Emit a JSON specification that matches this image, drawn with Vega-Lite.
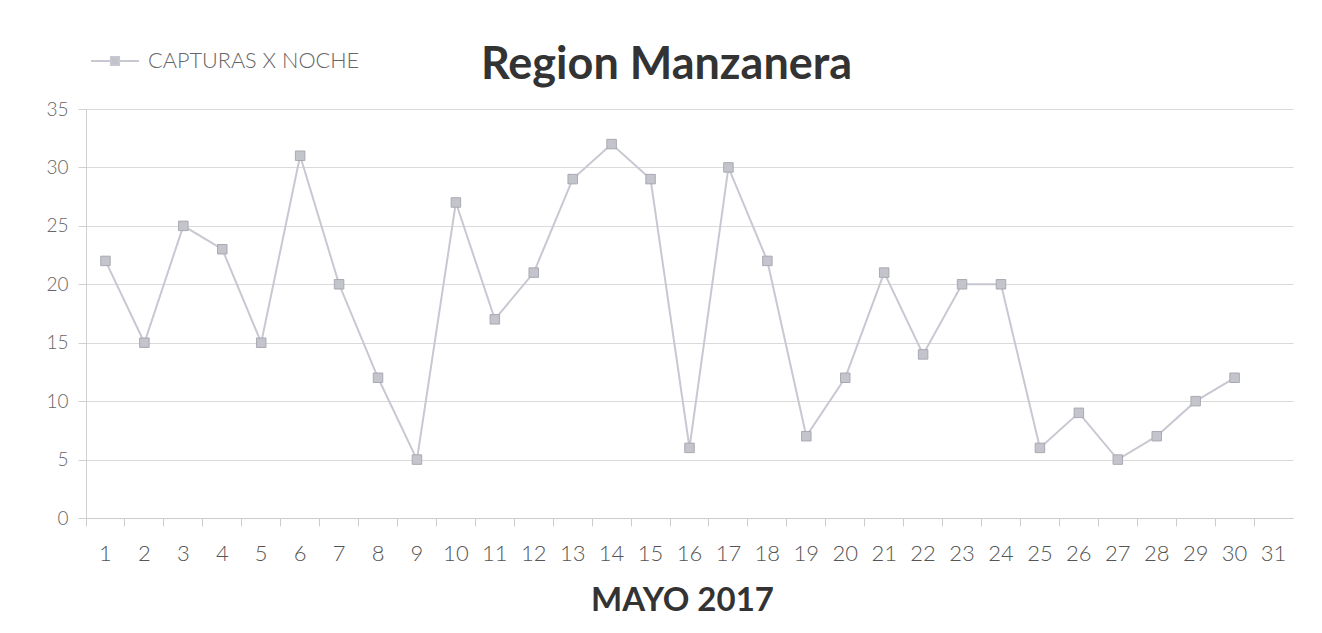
{
  "$schema": "https://vega.github.io/schema/vega-lite/v6.json",
  "autosize": "none",
  "width": 1207,
  "height": 409,
  "padding": {"left": 86, "top": 109, "right": 29, "bottom": 115},
  "background": "white",
  "config": {"view": {"stroke": null}, "font": "Lato"},
  "title": {"text": "Region Manzanera", "fontSize": 45, "fontWeight": "bold", "color": "#333333", "font": "Lato", "anchor": "middle", "dx": -23, "dy": 98, "offset": 10, "baseline": "alphabetic"},
  "data": {"values": [
    {"day": 1, "capturas": 22}, {"day": 2, "capturas": 15}, {"day": 3, "capturas": 25}, {"day": 4, "capturas": 23},
    {"day": 5, "capturas": 15}, {"day": 6, "capturas": 31}, {"day": 7, "capturas": 20}, {"day": 8, "capturas": 12},
    {"day": 9, "capturas": 5}, {"day": 10, "capturas": 27}, {"day": 11, "capturas": 17}, {"day": 12, "capturas": 21},
    {"day": 13, "capturas": 29}, {"day": 14, "capturas": 32}, {"day": 15, "capturas": 29}, {"day": 16, "capturas": 6},
    {"day": 17, "capturas": 30}, {"day": 18, "capturas": 22}, {"day": 19, "capturas": 7}, {"day": 20, "capturas": 12},
    {"day": 21, "capturas": 21}, {"day": 22, "capturas": 14}, {"day": 23, "capturas": 20}, {"day": 24, "capturas": 20},
    {"day": 25, "capturas": 6}, {"day": 26, "capturas": 9}, {"day": 27, "capturas": 5}, {"day": 28, "capturas": 7},
    {"day": 29, "capturas": 10}, {"day": 30, "capturas": 12}
  ]},
  "layer": [
    {
      "mark": {"type": "line", "strokeWidth": 2},
      "encoding": {
        "x": {
          "field": "day", "type": "ordinal",
          "scale": {"type": "band", "domain": [1,2,3,4,5,6,7,8,9,10,11,12,13,14,15,16,17,18,19,20,21,22,23,24,25,26,27,28,29,30,31], "paddingInner": 0, "paddingOuter": 0},
          "axis": {"orient": "bottom", "title": "MAYO 2017", "titleFontSize": 33, "titleFontWeight": "bold", "titleColor": "#333333", "titleFont": "Lato", "titlePadding": 20, "titleX": 596,
                   "labelAngle": 0, "labelFontSize": 22, "labelFontWeight": 300, "labelColor": "#555555", "labelFont": "Lato", "labelPadding": 25, "ticks": false, "domain": false, "grid": false}
        },
        "y": {
          "field": "capturas", "type": "quantitative",
          "scale": {"domain": [0, 35], "nice": false},
          "axis": {"title": null, "values": [0,5,10,15,20,25,30,35], "grid": true, "gridColor": "#dadada", "domainColor": "#d0d0d0", "tickColor": "#d0d0d0", "tickSize": 8,
                   "labelFontSize": 19, "labelFontWeight": 300, "labelColor": "#666666", "labelFont": "Lato", "labelPadding": 10}
        },
        "color": {
          "datum": "CAPTURAS X NOCHE",
          "scale": {"range": ["#c8c8d2"]},
          "legend": {"orient": "none", "legendX": 4, "legendY": -73, "title": null,
                     "symbolType": "M-1,0L-0.17,0M0.17,0L1,0M-0.17,-0.17L0.17,-0.17L0.17,0.17L-0.17,0.17Z",
                     "symbolSize": 2304, "symbolStrokeWidth": 2, "symbolFillColor": "#c2c2ca",
                     "labelFontSize": 21.7, "labelFontWeight": 300, "labelColor": "#666666", "labelFont": "Lato", "labelOffset": 8, "labelLimit": 400}
        }
      }
    },
    {
      "mark": {"type": "point", "shape": "square", "filled": true, "size": 90, "color": "#c4c4cc", "stroke": "#a9a9b3", "strokeWidth": 1, "opacity": 1},
      "encoding": {
        "x": {"field": "day", "type": "ordinal",
              "axis": {"orient": "bottom", "title": null, "labels": false, "ticks": true, "tickSize": 8, "tickColor": "#cccccc", "domain": true, "domainColor": "#cccccc", "bandPosition": 0, "grid": false}},
        "y": {"field": "capturas", "type": "quantitative"}
      }
    }
  ],
  "resolve": {"axis": {"x": "independent"}}
}
